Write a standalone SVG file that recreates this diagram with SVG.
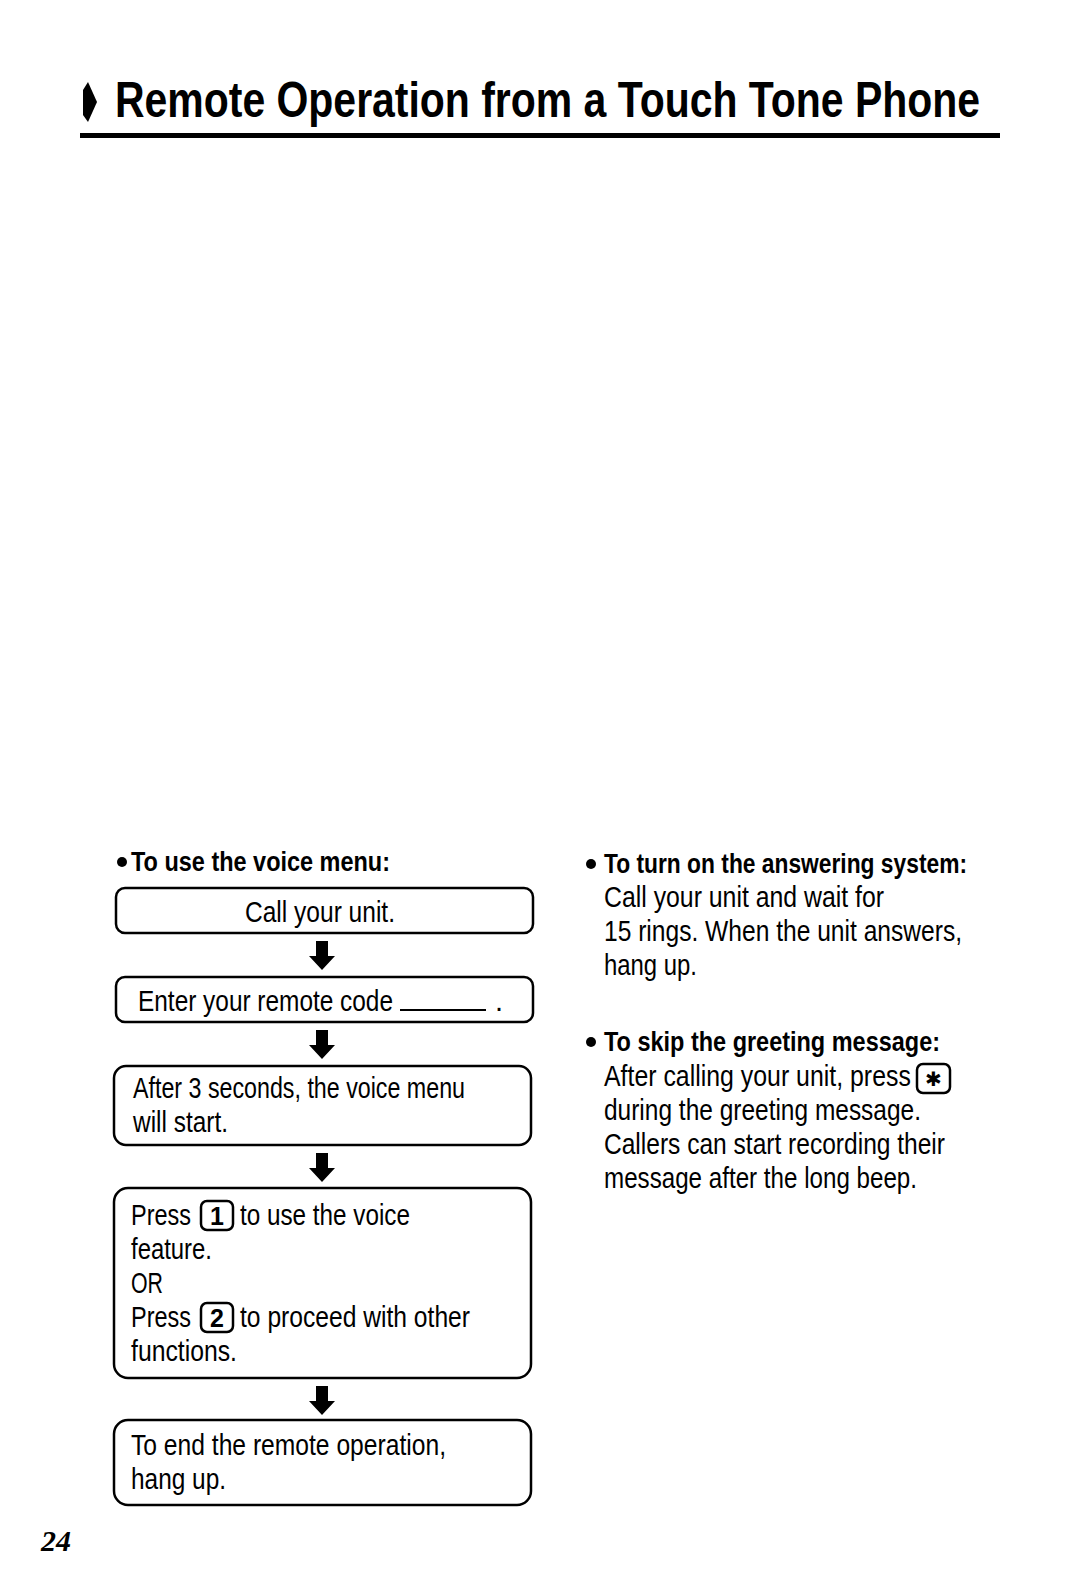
<svg xmlns="http://www.w3.org/2000/svg" width="1080" height="1574" viewBox="0 0 1080 1574">
<style>
.box{fill:#fff;stroke:#000;stroke-width:2.5}
.key{fill:none;stroke:#000;stroke-width:2.5}
.t{font-family:"Liberation Sans",Arial,sans-serif;font-size:29px;fill:#000}
.h{font-family:"Liberation Sans",Arial,sans-serif;font-size:28px;font-weight:bold;fill:#000}
.k{font-family:"Liberation Sans",Arial,sans-serif;font-size:25px;font-weight:bold;fill:#000;text-anchor:middle}
.title{font-family:"Liberation Sans",Arial,sans-serif;font-size:50px;font-weight:bold;fill:#000}
</style>
<defs>
<path id="arr" d="M-6,0 H6 V15 H13 L0,29 L-13,15 H-6 Z" fill="#000"/>
</defs>
<rect width="1080" height="1574" fill="#fff"/>

<g id="title">
<polygon points="83,90 88,82 97,102 88,122 83,115" fill="#000"/>
<text class="title" transform="translate(115,117) scale(0.81,1)" x="0" y="0" textLength="1068" lengthAdjust="spacingAndGlyphs">Remote Operation from a Touch Tone Phone</text>
<rect x="80" y="133" width="920" height="5" fill="#000"/>
</g>

<g id="heading-voice-menu">
<circle cx="122" cy="862" r="5" fill="#000"/>
<text class="h" x="131" y="871" textLength="259" lengthAdjust="spacingAndGlyphs">To use the voice menu:</text>
</g>

<g id="step1">
<rect class="box" x="116" y="888" width="417" height="45" rx="9"/>
<text class="t" x="245" y="922" textLength="150" lengthAdjust="spacingAndGlyphs">Call your unit.</text>
</g>

<g id="step2">
<rect class="box" x="116" y="977" width="417" height="45" rx="9"/>
<text class="t" x="138" y="1011" textLength="255" lengthAdjust="spacingAndGlyphs">Enter your remote code</text>
<line x1="400" y1="1010" x2="486" y2="1010" stroke="#000" stroke-width="2"/>
<text class="t" x="495" y="1011">.</text>
</g>

<g id="step3">
<rect class="box" x="114" y="1066" width="417" height="79" rx="12"/>
<text class="t" x="133" y="1098" textLength="332" lengthAdjust="spacingAndGlyphs">After 3 seconds, the voice menu</text>
<text class="t" x="133" y="1132" textLength="95" lengthAdjust="spacingAndGlyphs">will start.</text>
</g>

<g id="step4">
<rect class="box" x="114" y="1188" width="417" height="190" rx="14"/>
<text class="t" x="131" y="1225" textLength="60" lengthAdjust="spacingAndGlyphs">Press</text>
<rect class="key" x="201" y="1201" width="32" height="29" rx="6"/>
<text class="k" x="217" y="1225">1</text>
<text class="t" x="240" y="1225" textLength="170" lengthAdjust="spacingAndGlyphs">to use the voice</text>
<text class="t" x="131" y="1259" textLength="81" lengthAdjust="spacingAndGlyphs">feature.</text>
<text class="t" x="131" y="1293" textLength="32" lengthAdjust="spacingAndGlyphs">OR</text>
<text class="t" x="131" y="1327" textLength="60" lengthAdjust="spacingAndGlyphs">Press</text>
<rect class="key" x="201" y="1303" width="32" height="29" rx="6"/>
<text class="k" x="217" y="1327">2</text>
<text class="t" x="240" y="1327" textLength="230" lengthAdjust="spacingAndGlyphs">to proceed with other</text>
<text class="t" x="131" y="1361" textLength="106" lengthAdjust="spacingAndGlyphs">functions.</text>
</g>

<g id="step5">
<rect class="box" x="114" y="1420" width="417" height="85" rx="14"/>
<text class="t" x="131" y="1455" textLength="315" lengthAdjust="spacingAndGlyphs">To end the remote operation,</text>
<text class="t" x="131" y="1489" textLength="95" lengthAdjust="spacingAndGlyphs">hang up.</text>
</g>

<g id="connectors">
<use href="#arr" x="322" y="941"/>
<use href="#arr" x="322" y="1030"/>
<use href="#arr" x="322" y="1153"/>
<use href="#arr" x="322" y="1386"/>
</g>

<g id="answering-system">
<circle cx="591" cy="864" r="5" fill="#000"/>
<text class="h" x="604" y="873" textLength="363" lengthAdjust="spacingAndGlyphs">To turn on the answering system:</text>
<text class="t" x="604" y="907" textLength="280" lengthAdjust="spacingAndGlyphs">Call your unit and wait for</text>
<text class="t" x="604" y="941" textLength="358" lengthAdjust="spacingAndGlyphs">15 rings. When the unit answers,</text>
<text class="t" x="604" y="975" textLength="93" lengthAdjust="spacingAndGlyphs">hang up.</text>
</g>

<g id="skip-greeting">
<circle cx="591" cy="1042" r="5" fill="#000"/>
<text class="h" x="604" y="1051" textLength="336" lengthAdjust="spacingAndGlyphs">To skip the greeting message:</text>
<text class="t" transform="translate(604,1086) scale(0.85,1)" x="0" y="0" textLength="361" lengthAdjust="spacingAndGlyphs">After calling your unit, press</text>
<rect class="key" x="917" y="1064" width="33" height="29" rx="6"/>
<text x="933.5" y="1079" font-family="'DejaVu Sans',sans-serif" font-size="20" font-weight="bold" text-anchor="middle" dominant-baseline="central" fill="#000">✱</text>
<text class="t" x="604" y="1120" textLength="317" lengthAdjust="spacingAndGlyphs">during the greeting message.</text>
<text class="t" x="604" y="1154" textLength="341" lengthAdjust="spacingAndGlyphs">Callers can start recording their</text>
<text class="t" x="604" y="1188" textLength="313" lengthAdjust="spacingAndGlyphs">message after the long beep.</text>
</g>

<text x="41" y="1551" font-family="'Liberation Serif',serif" font-size="30" font-weight="bold" font-style="italic" fill="#000">24</text>
</svg>
